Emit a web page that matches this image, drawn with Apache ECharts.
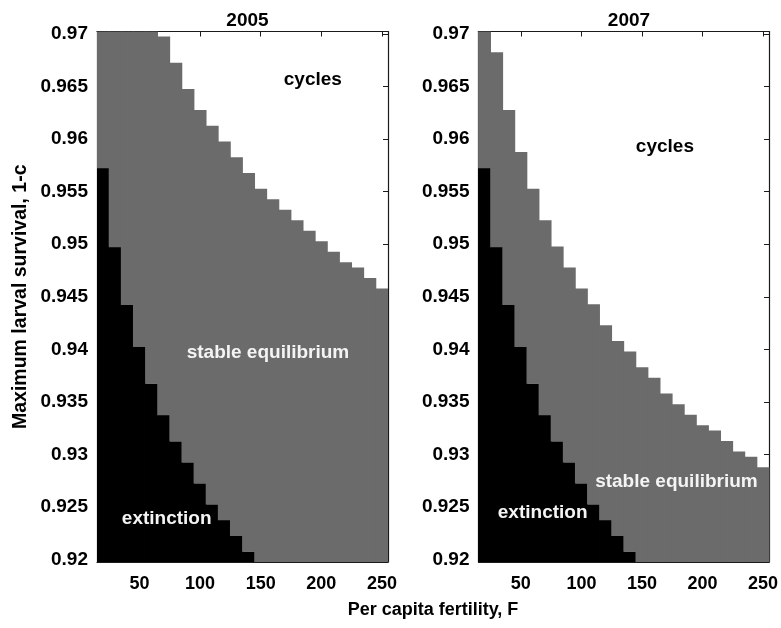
<!DOCTYPE html>
<html>
<head>
<meta charset="utf-8">
<title>Stability regions of the larval survival model</title>
<script src="https://cdn.jsdelivr.net/npm/echarts@6/dist/echarts.min.js"></script>
<style>
  html, body { margin: 0; padding: 0; background: #ffffff; }
  #chart { width: 781px; height: 628px; }
</style>
</head>
<body>
<div id="chart"></div>
<script>
// Per capita fertility F: centre of each grid column (columns are 10 wide)
const fertility = [20, 30, 40, 50, 60, 70, 80, 90, 100, 110, 120, 130,
                   140, 150, 160, 170, 180, 190, 200, 210, 220, 230, 240, 250];
const cellWidth = 10;

// Survival range covered by the parameter grid
const survivalMin = 0.91975;
const survivalMax = 0.97025;

// Upper edge of the extinction region for each F column (null = no extinction)
const extinction2005 = [0.95725, 0.94975, 0.94425, 0.94025, 0.93675, 0.93375, 0.93125,
                        0.92925, 0.92725, 0.92525, 0.92375, 0.92225, 0.92075,
                        null, null, null, null, null, null, null, null, null, null, null];
// Lower edge of the cycles region for each F column (null = no cycles)
const cycles2005 = [null, null, null, null, null, 0.96975, 0.96725, 0.96475, 0.96275,
                    0.96125, 0.95975, 0.95825, 0.95675, 0.95525, 0.95425, 0.95325,
                    0.95225, 0.95125, 0.95025, 0.94925, 0.94825, 0.94775, 0.94675, 0.94575];

const extinction2007 = [0.95725, 0.94975, 0.94425, 0.94025, 0.93675, 0.93375, 0.93125,
                        0.92925, 0.92725, 0.92525, 0.92375, 0.92225, 0.92075,
                        null, null, null, null, null, null, null, null, null, null, null];
const cycles2007 = [null, 0.96825, 0.96275, 0.95875, 0.95525, 0.95225, 0.94975, 0.94775,
                    0.94575, 0.94425, 0.94225, 0.94075, 0.93975, 0.93825, 0.93725,
                    0.93575, 0.93475, 0.93375, 0.93275, 0.93225, 0.93125, 0.93025,
                    0.92975, 0.92875];

// Tick positions
const fertilityTicks = [50, 100, 150, 200, 250];
const survivalTicks = [0.92, 0.925, 0.93, 0.935, 0.94, 0.945, 0.95, 0.955, 0.96, 0.965, 0.97];

// Panels and region labels
const panelYears = ['2005', '2007'];
const regionNames = ['cycles', 'stable equilibrium', 'extinction'];
// Label anchor points [F, survival] for each panel, in regionNames order
const labelAnchors2005 = [[193, 0.96563], [156, 0.93965], [72.5, 0.92382]];
const labelAnchors2007 = [[169, 0.95928], [178.5, 0.92739], [68, 0.92439]];

const COLOR_EXTINCT = '#000000';
const COLOR_STABLE = '#6b6b6b';
const FONT = '"Liberation Sans", Arial, sans-serif';

function regionRows(ext, cyc) {
  return fertility.map((f, i) => [
    f,
    ext[i] === null ? survivalMin : ext[i],
    cyc[i] === null ? survivalMax : cyc[i]
  ]);
}

function renderColumn(params, api) {
  const f = api.value(0);
  const ext = api.value(1);
  const cyc = api.value(2);
  const pl = api.coord([f - cellWidth / 2, survivalMin]);
  const pr = api.coord([f + cellWidth / 2, survivalMin]);
  const pe = api.coord([f, ext]);
  const pc = api.coord([f, cyc]);
  const x = pl[0] - 0.4;
  const w = pr[0] - pl[0] + 0.8;
  const children = [];
  if (pl[1] - pe[1] > 0.01) {
    children.push({
      type: 'rect',
      shape: { x: x, y: pe[1], width: w, height: pl[1] - pe[1] },
      style: { fill: COLOR_EXTINCT }
    });
  }
  if (pe[1] - pc[1] > 0.01) {
    children.push({
      type: 'rect',
      shape: { x: x, y: pc[1] - 0.3, width: w, height: pe[1] - pc[1] + 0.6 },
      style: { fill: COLOR_STABLE }
    });
  }
  return { type: 'group', children: children };
}

const grids = [
  { left: 97, top: 31.5, width: 291, height: 530.5 },
  { left: 478.5, top: 31.5, width: 291, height: 530.5 }
];

function xAxes(gridIndex) {
  const base = {
    type: 'value', gridIndex: gridIndex, min: 15, max: 255,
    splitLine: { show: false },
    axisLine: { show: true, onZero: false, lineStyle: { color: '#1a1a1a', width: 1.2 } },
    axisTick: { show: true, inside: true, length: 5, customValues: fertilityTicks,
                lineStyle: { color: '#1a1a1a' } }
  };
  return [
    Object.assign({}, base, {
      position: 'bottom',
      axisLabel: { show: true, customValues: fertilityTicks, margin: 13,
                   fontFamily: FONT, fontWeight: 'bold', fontSize: 18, color: '#000' }
    }),
    Object.assign({}, base, { position: 'top', axisLabel: { show: false } })
  ];
}

function yAxes(gridIndex) {
  const base = {
    type: 'value', gridIndex: gridIndex, min: survivalMin, max: survivalMax,
    splitLine: { show: false },
    axisLine: { show: true, onZero: false, lineStyle: { color: '#1a1a1a', width: 1.2 } },
    axisTick: { show: true, inside: true, length: 5, customValues: survivalTicks,
                lineStyle: { color: '#1a1a1a' } }
  };
  const left = Object.assign({}, base, {
    position: 'left',
    axisLabel: { show: true, customValues: survivalTicks, margin: 9,
                 fontFamily: FONT, fontWeight: 'bold', fontSize: 19, color: '#000',
                 formatter: v => String(+v.toFixed(3)) }
  });
  if (gridIndex === 0) {
    Object.assign(left, {
      name: 'Maximum larval survival, 1-c',
      nameLocation: 'middle', nameGap: 66, nameRotate: 90,
      nameTextStyle: { fontFamily: FONT, fontWeight: 'bold', fontSize: 19.5, color: '#000' }
    });
  }
  return [left, Object.assign({}, base, { position: 'right', axisLabel: { show: false } })];
}

function labelSeries(anchors, idx) {
  return {
    type: 'scatter', xAxisIndex: idx * 2, yAxisIndex: idx * 2,
    symbolSize: 0, silent: true, z: 5,
    itemStyle: { opacity: 1 },
    data: anchors.map((a, i) => ({
      value: a,
      label: {
        show: true, position: 'inside', formatter: regionNames[i],
        fontFamily: FONT, fontWeight: 'bold', fontSize: 19,
        color: i === 0 ? '#000000' : '#f4f4f4', opacity: 1,
        textBorderWidth: 0
      }
    }))
  };
}

const chart = echarts.init(document.getElementById('chart'), null, { renderer: 'canvas' });
chart.setOption({
  animation: false,
  backgroundColor: '#ffffff',
  title: panelYears.map((y, i) => ({
    text: y,
    left: grids[i].left + grids[i].width / 2,
    top: 6,
    textAlign: 'center',
    textStyle: { fontFamily: FONT, fontWeight: 'bold', fontSize: 19, color: '#000' }
  })),
  graphic: [{
    type: 'text',
    x: 433, y: 610,
    style: {
      text: 'Per capita fertility, F', font: 'bold 18px ' + FONT, fill: '#000',
      textAlign: 'center', textVerticalAlign: 'middle'
    }
  }],
  grid: grids,
  xAxis: xAxes(0).concat(xAxes(1)),
  yAxis: yAxes(0).concat(yAxes(1)),
  series: [
    { type: 'custom', xAxisIndex: 0, yAxisIndex: 0, renderItem: renderColumn,
      data: regionRows(extinction2005, cycles2005), silent: true, clip: true },
    { type: 'custom', xAxisIndex: 2, yAxisIndex: 2, renderItem: renderColumn,
      data: regionRows(extinction2007, cycles2007), silent: true, clip: true },
    labelSeries(labelAnchors2005, 0),
    labelSeries(labelAnchors2007, 1)
  ]
});
</script>
</body>
</html>
